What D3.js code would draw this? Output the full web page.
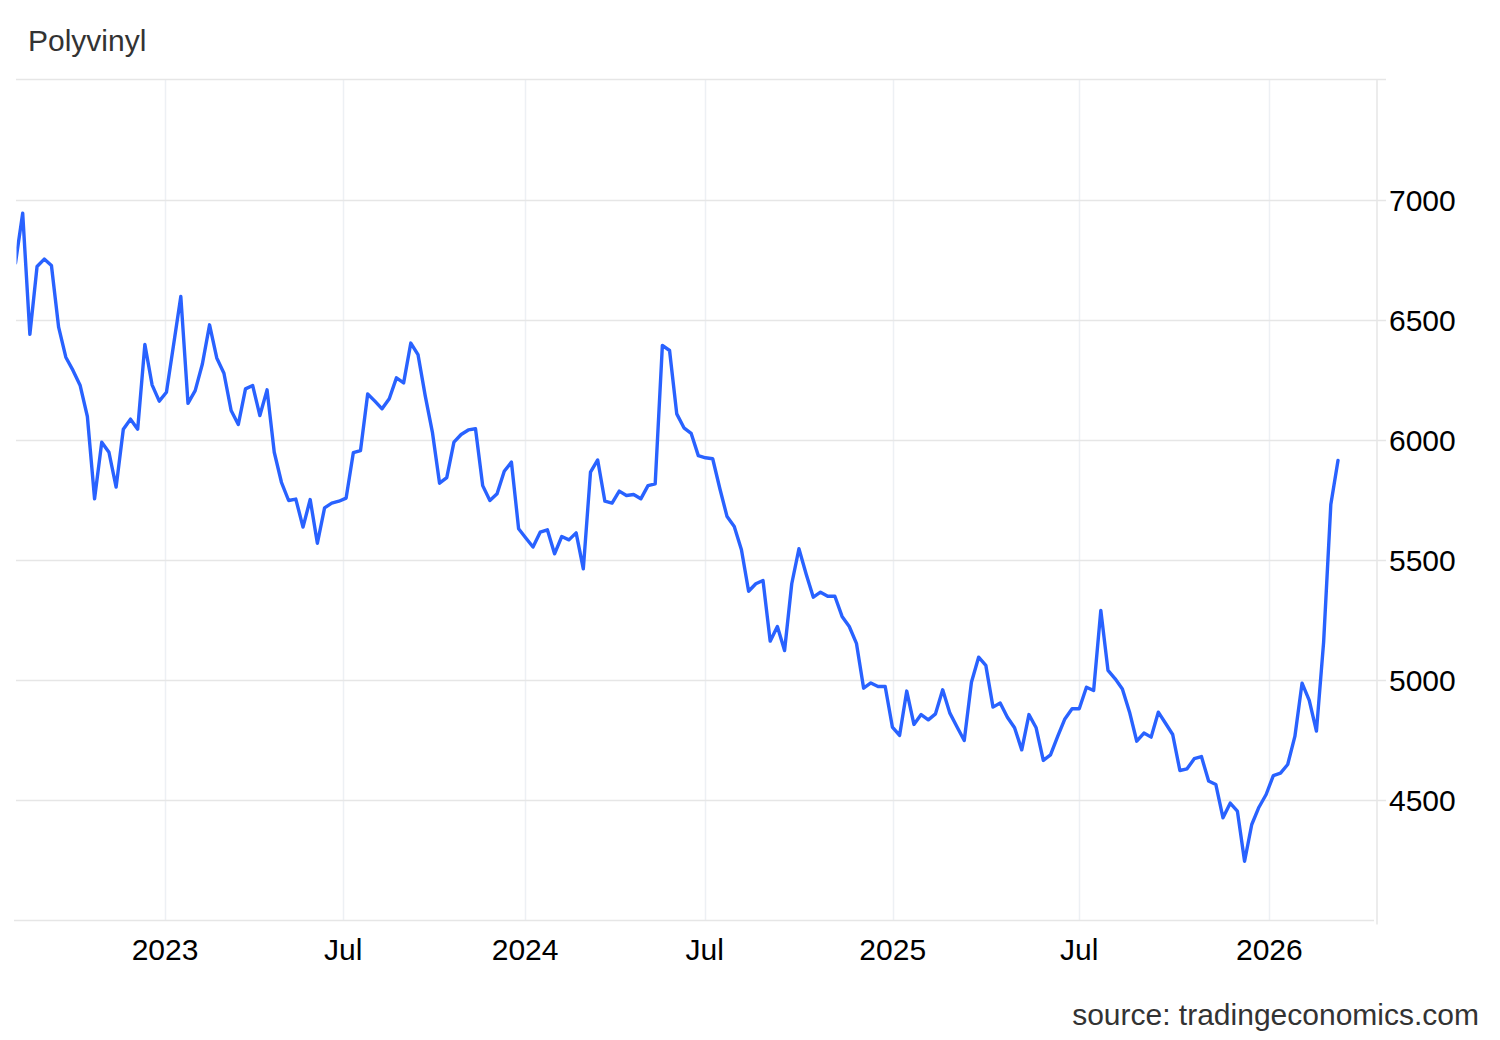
<!DOCTYPE html>
<html>
<head>
<meta charset="utf-8">
<script src="https://cdn.jsdelivr.net/npm/d3@7"></script>
<style>
  html, body { margin: 0; padding: 0; background: #fff; }
  svg { display: block; font-family: "Liberation Sans", Arial, sans-serif; }
</style>
</head>
<body>
<svg id="chart" width="1500" height="1040"></svg>
<script>
// weekly prices, one per point (ordinal x axis)
const values = [
  6740, 6947, 6442, 6725, 6756, 6729, 6472, 6347, 6292, 6229,
  6100, 5757, 5993, 5951, 5806, 6047, 6089, 6047, 6400, 6232,
  6164, 6201, 6400, 6600, 6155, 6208, 6319, 6482, 6344, 6280,
  6125, 6067, 6215, 6229, 6104, 6211, 5951, 5826, 5750, 5756,
  5639, 5754, 5572, 5719, 5739, 5747, 5760, 5949, 5958, 6194,
  6164, 6132, 6174, 6261, 6240, 6406, 6358, 6187, 6035, 5822,
  5845, 5993, 6025, 6044, 6049, 5812, 5750, 5778, 5872, 5910,
  5632, 5594, 5556, 5618, 5628, 5528, 5600, 5586, 5615, 5465,
  5868, 5919, 5747, 5739, 5789, 5771, 5775, 5757, 5812, 5819,
  6396, 6375, 6111, 6053, 6030, 5937, 5928, 5924, 5799, 5683,
  5642, 5545, 5372, 5403, 5417, 5164, 5225, 5125, 5403, 5549,
  5444, 5347, 5368, 5351, 5351, 5267, 5225, 5155, 4968, 4990,
  4975, 4975, 4806, 4771, 4956, 4817, 4858, 4836, 4861, 4961,
  4864, 4806, 4750, 4993, 5097, 5063, 4889, 4906, 4847, 4803,
  4711, 4858, 4803, 4667, 4690, 4767, 4840, 4882, 4882, 4972,
  4958, 5292, 5042, 5007, 4965, 4868, 4747, 4781, 4764, 4868,
  4822, 4775, 4625, 4632, 4674, 4683, 4581, 4567, 4428, 4489,
  4456, 4247, 4400, 4472, 4525, 4604, 4614, 4650, 4767, 4989,
  4917, 4789, 5160, 5733, 5917
];

// where each date label falls along the point sequence
const xTickLabels = ['2023', 'Jul', '2024', 'Jul', '2025', 'Jul', '2026'];
const xTickIndex = [20.8, 45.6, 70.9, 95.9, 122.05, 148.0, 174.45];

const yTicks = [4500, 5000, 5500, 6000, 6500, 7000];

const svg = d3.select('#chart');
const plotLeft = 16, plotRight = 1377, plotTop = 79, plotBottom = 920.5;

const x = d3.scaleLinear().domain([0, values.length - 1]).range([15.5, 1338]);
const y = d3.scaleLinear().domain([4000, 7500]).range([920.5, 80.5]);

svg.append('rect').attr('width', 1500).attr('height', 1040).attr('fill', '#fff');

// vertical grid
svg.append('g').selectAll('line')
  .data(xTickIndex)
  .enter().append('line')
  .attr('x1', d => Math.round(x(d)) + 0.5).attr('x2', d => Math.round(x(d)) + 0.5)
  .attr('y1', plotTop).attr('y2', plotBottom)
  .attr('stroke', '#edf0f4').attr('stroke-width', 1.5);

// horizontal grid + right ticks
svg.append('g').selectAll('line')
  .data(yTicks)
  .enter().append('line')
  .attr('x1', plotLeft).attr('x2', plotRight + 9)
  .attr('y1', d => y(d)).attr('y2', d => y(d))
  .attr('stroke', '#e6e6e6').attr('stroke-width', 1.5);

// top border, bottom axis, right axis
svg.append('line').attr('x1', plotLeft).attr('x2', plotRight + 9).attr('y1', plotTop + 0.5).attr('y2', plotTop + 0.5)
  .attr('stroke', '#e6e6e6').attr('stroke-width', 1.5);
svg.append('line').attr('x1', plotLeft - 2).attr('x2', plotRight - 3).attr('y1', plotBottom).attr('y2', plotBottom)
  .attr('stroke', '#e6e6e6').attr('stroke-width', 1.5);
svg.append('line').attr('x1', plotRight).attr('x2', plotRight).attr('y1', plotTop).attr('y2', plotBottom + 4)
  .attr('stroke', '#e6e6e6').attr('stroke-width', 1.5);

// labels
svg.append('g').selectAll('text')
  .data(yTicks)
  .enter().append('text')
  .attr('x', 1389).attr('y', d => y(d) + 10.5)
  .attr('font-size', 30).attr('fill', '#000')
  .text(d => d);

svg.append('g').selectAll('text')
  .data(xTickIndex)
  .enter().append('text')
  .attr('x', d => x(d)).attr('y', 960)
  .attr('text-anchor', 'middle')
  .attr('font-size', 30).attr('fill', '#000')
  .text((d, i) => xTickLabels[i]);

svg.append('text').attr('x', 28).attr('y', 51)
  .attr('font-size', 30).attr('fill', '#333').text('Polyvinyl');

svg.append('text').attr('x', 1479).attr('y', 1025)
  .attr('text-anchor', 'end')
  .attr('font-size', 30).attr('fill', '#333').text('source: tradingeconomics.com');

// the series
svg.append('clipPath').attr('id', 'plot')
  .append('rect').attr('x', plotLeft + 0.5).attr('y', plotTop).attr('width', plotRight - plotLeft).attr('height', plotBottom - plotTop);

const line = d3.line()
  .x((d, i) => x(i))
  .y(d => y(d));

svg.append('path')
  .datum(values)
  .attr('clip-path', 'url(#plot)')
  .attr('d', line)
  .attr('fill', 'none')
  .attr('stroke', '#2962ff')
  .attr('stroke-width', 3.4)
  .attr('stroke-linejoin', 'round')
  .attr('stroke-linecap', 'round');
</script>
</body>
</html>
